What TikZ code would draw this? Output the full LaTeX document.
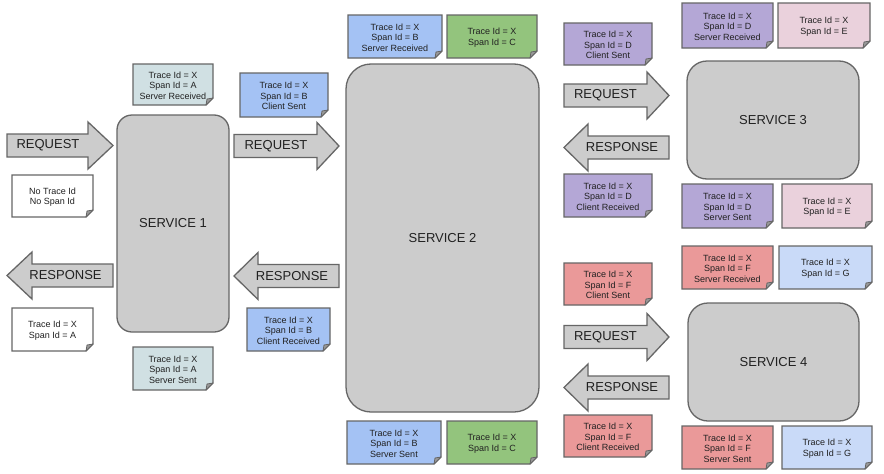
\documentclass[tikz,border=0pt]{standalone}
\usepackage{fontspec}
\setmainfont{Liberation Sans}
\definecolor{edge}{HTML}{666666}
\definecolor{boxgray}{HTML}{CCCCCC}
\definecolor{foldgray}{HTML}{999999}
\definecolor{txt}{HTML}{212121}
\definecolor{cteal}{HTML}{D0E0E3}
\definecolor{cblue}{HTML}{A4C2F4}
\definecolor{cgreen}{HTML}{93C47D}
\definecolor{cpurple}{HTML}{B4A7D6}
\definecolor{cpink}{HTML}{EAD1DC}
\definecolor{cred}{HTML}{EA9999}
\definecolor{clblue}{HTML}{C9DAF8}
\tikzset{
  notebox/.style={draw=edge, line width=1.3pt, line join=miter},
  foldbox/.style={draw=edge, line width=0.8pt, fill=foldgray, line join=round},
  notetext/.style={align=center, text=txt, inner sep=0pt, font=\fontsize{9}{10.5}\selectfont},
  blockarrow/.style={draw=edge, line width=1.3pt, fill=boxgray, line join=miter},
  arrowtext/.style={text=txt, inner sep=0pt, font=\fontsize{13}{15}\selectfont},
  service/.style={draw=edge, line width=1.3pt, fill=boxgray, text=txt, font=\fontsize{13}{15}\selectfont, inner sep=0pt},
}
\newcommand{\notebox}[7]{%
  \draw[notebox, fill=#6] (#2,#3) -- (#4,#3) -- (#4,#5-7) -- (#4-7,#5) -- (#2,#5) -- cycle;
  \draw[foldbox] (#4,#5-7) -- (#4-7,#5) -- (#4-6,#5-6) -- cycle;
  \node[notetext] (#1) at ({(#2+#4)/2},{(#3+#5)/2+1}) {#7};
}
% name, left, headbase, tip, cy, textx
\newcommand{\reqarrow}[6]{%
  \draw[blockarrow] (#2,#5-11.5) -- (#3,#5-11.5) -- (#3,#5-23.5) -- (#4,#5) -- (#3,#5+23.5) -- (#3,#5+11.5) -- (#2,#5+11.5) -- cycle;
  \node[arrowtext] (#1) at (#6,#5) {REQUEST};
}
% name, tip, headbase, right, cy, textx
\newcommand{\resparrow}[6]{%
  \draw[blockarrow] (#4,#5-11.5) -- (#3,#5-11.5) -- (#3,#5-23.5) -- (#2,#5) -- (#3,#5+23.5) -- (#3,#5+11.5) -- (#4,#5+11.5) -- cycle;
  \node[arrowtext] (#1) at (#6,#5) {RESPONSE};
}
\begin{document}
\begin{tikzpicture}[x=1pt,y=-1pt]
\useasboundingbox (0,0) rectangle (884,474);
\fill[white] (0,0) rectangle (884,474);

% services
\node[service, minimum width=112pt, minimum height=217pt, rounded corners=15pt] (s1) at (173,223.5) {SERVICE 1};
\node[service, minimum width=193pt, minimum height=348pt, rounded corners=25pt] (s2) at (442.5,238) {SERVICE 2};
\node[service, minimum width=172pt, minimum height=118pt, rounded corners=20pt] (s3) at (773,120) {SERVICE 3};
\node[service, minimum width=171pt, minimum height=118pt, rounded corners=20pt] (s4) at (773.5,362) {SERVICE 4};

% arrows
\reqarrow{req1}{7}{88}{113}{145.5}{48}
\reqarrow{req2}{234}{317}{339}{146}{276}
\reqarrow{req3}{564}{647}{669}{95.5}{605.5}
\reqarrow{req4}{564}{647}{669}{337}{605.5}
\resparrow{resp1}{7}{32}{113}{275.5}{65.5}
\resparrow{resp2}{234}{258}{339}{276}{292}
\resparrow{resp3}{564}{588}{669}{147.5}{622}
\resparrow{resp4}{564}{588}{669}{387.5}{622}

% notes
\notebox{nasr}{133}{64}{213}{105}{cteal}{Trace Id = X\\Span Id = A\\Server Received}
\notebox{nnone}{12}{175}{93}{217}{white}{No Trace Id\\No Span Id}
\notebox{naresp}{12}{308}{93}{351}{white}{Trace Id = X\\Span Id = A}
\notebox{nass}{133}{347}{213}{390}{cteal}{Trace Id = X\\Span Id = A\\Server Sent}
\notebox{nbcs}{240}{73}{328}{117}{cblue}{Trace Id = X\\Span Id = B\\Client Sent}
\notebox{nbcr}{247}{308}{330}{351}{cblue}{Trace Id = X\\Span Id = B\\Client Received}
\notebox{nbsr}{348}{15}{442}{58}{cblue}{Trace Id = X\\Span Id = B\\Server Received}
\notebox{nctop}{447}{15}{537}{58}{cgreen}{Trace Id = X\\Span Id = C}
\notebox{nbss}{347}{421}{441}{464}{cblue}{Trace Id = X\\Span Id = B\\Server Sent}
\notebox{ncbot}{447}{421}{537}{464}{cgreen}{Trace Id = X\\Span Id = C}
\notebox{ndcs}{564}{23}{652}{65}{cpurple}{Trace Id = X\\Span Id = D\\Client Sent}
\notebox{ndsr}{682}{3}{773}{48}{cpurple}{Trace Id = X\\Span Id = D\\Server Received}
\notebox{netop}{778}{3}{870}{48}{cpink}{Trace Id = X\\Span Id = E}
\notebox{ndcr}{564}{174}{652}{217}{cpurple}{Trace Id = X\\Span Id = D\\Client Received}
\notebox{ndss}{682}{184}{773}{228}{cpurple}{Trace Id = X\\Span Id = D\\Server Sent}
\notebox{nebot}{782}{184}{872}{228}{cpink}{Trace Id = X\\Span Id = E}
\notebox{nfsr}{682}{246}{773}{289}{cred}{Trace Id = X\\Span Id = F\\Server Received}
\notebox{ngtop}{779}{246}{872}{289}{clblue}{Trace Id = X\\Span Id = G}
\notebox{nfcs}{564}{263}{652}{305}{cred}{Trace Id = X\\Span Id = F\\Client Sent}
\notebox{nfcr}{564}{415}{652}{457}{cred}{Trace Id = X\\Span Id = F\\Client Received}
\notebox{nfss}{682}{426}{773}{469}{cred}{Trace Id = X\\Span Id = F\\Server Sent}
\notebox{ngbot}{782}{426}{872}{469}{clblue}{Trace Id = X\\Span Id = G}
\end{tikzpicture}
\end{document}
